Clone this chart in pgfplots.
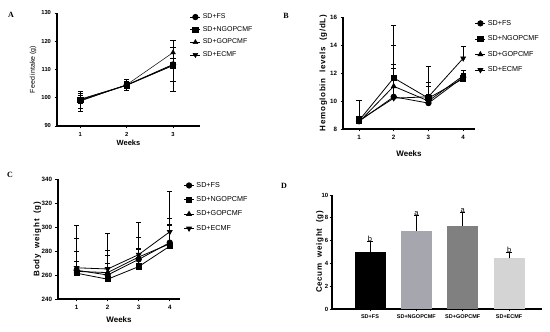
\documentclass[border=0pt]{standalone}
\usepackage{fontspec}
\setmainfont{Liberation Sans}
\newfontfamily\serifb{Liberation Serif}
\newfontfamily\spaced[LetterSpace=9]{Liberation Sans}
\usepackage{pgfplots}
\pgfplotsset{compat=1.18}

\pgfplotstableread{
x y ey
1 99.0 2.7
2 104.5 2.0
3 111.8 6.1
}\AFS
\pgfplotstableread{
x y ey
1 99.3 1.0
2 104.4 1.0
3 111.5 1.0
}\ANG
\pgfplotstableread{
x y ey
1 98.8 3.5
2 104.6 1.0
3 116.0 2.0
}\AGO
\pgfplotstableread{
x y ey
1 99.5 1.5
2 104.5 1.2
3 111.4 9.0
}\AEC

\pgfplotstableread{
x y ey
1 8.55 0.3
2 10.3 2.0
3 9.85 1.2
4 11.7 0.3
}\BFS
\pgfplotstableread{
x y ey
1 8.6 1.45
2 11.65 3.75
3 10.2 1.1
4 11.6 0.3
}\BNG
\pgfplotstableread{
x y ey
1 8.5 0.3
2 11.05 1.55
3 10.0 0.5
4 11.8 0.4
}\BGO
\pgfplotstableread{
x y ey
1 8.6 0.3
2 10.2 3.75
3 10.3 2.15
4 13.05 0.85
}\BEC

\pgfplotstableread{
x y ey
1 264 37
2 260 20.8
3 273 8.7
4 287 20
}\CFS
\pgfplotstableread{
x y ey
1 261.5 18.5
2 256.5 13.5
3 267 24.7
4 284 17
}\CNG
\pgfplotstableread{
x y ey
1 263 27.5
2 262 14.7
3 275 28.6
4 286 16
}\CGO
\pgfplotstableread{
x y ey
1 266 5
2 265 29.7
3 277 5
4 296 34
}\CEC

\definecolor{barNG}{HTML}{A6A6AE}
\definecolor{barGO}{HTML}{808080}
\definecolor{barEC}{HTML}{D4D4D4}

\pgfplotsset{
  gp/.style={
    scale only axis,
    axis lines=left,
    axis line style={line width=1.1pt,-},
    tick style={black, line width=0.8pt},
    tick align=outside,
    major tick length=2.5pt,
    /pgf/number format/assume math mode=true,
    clip=false,
    legend cell align=left,
    legend style={draw=none, fill=none, inner sep=0pt, outer sep=0pt},
    legend image code/.code={\draw[mark repeat=2,mark phase=2,##1] plot coordinates {(0pt,0pt)(5pt,0pt)(10pt,0pt)};},
    cycle list={
      {black, mark=*},
      {black, mark=square*},
      {black, mark=triangle*},
      {black, mark=triangle*, mark options={rotate=180}}},
    every axis plot/.append style={line width=0.8pt, mark size=2.7pt},
  },
  eb/.style={error bars/.cd, y dir=#1, y explicit,
    error bar style={black, line width=0.7pt},
    error mark options={rotate=90, black, mark size=2.6pt, line width=0.7pt}},
}

\begin{document}
\begin{tikzpicture}
\path[use as bounding box] (0,0) rectangle (550pt,332pt);

% Panel letters
\node[font=\serifb\bfseries\fontsize{8}{9}\selectfont] at (11pt,317pt) {A};
\node[font=\serifb\bfseries\fontsize{8}{9}\selectfont] at (286pt,316pt) {B};
\node[font=\serifb\bfseries\fontsize{8}{9}\selectfont] at (10pt,157pt) {C};
\node[font=\serifb\bfseries\fontsize{8}{9}\selectfont] at (284pt,146pt) {D};

% ---------------- A ----------------
\begin{axis}[gp,
  at={(57pt,206pt)}, anchor=south west,
  width=143pt, height=113pt,
  xmin=0.5, xmax=3.58, ymin=90, ymax=130,
  xtick={1,2,3}, ytick={90,100,...,130},
  tick label style={font=\bfseries\fontsize{5.8}{6.5}\selectfont},
  xlabel={Weeks}, ylabel={Feed intake (g)},
  xlabel style={font=\bfseries\fontsize{7.5}{8}\selectfont, at={(axis description cs:0.5,-0.15)}, anchor=center},
  ylabel style={font=\fontsize{7}{8}\selectfont, at={(axis description cs:-0.168,0.5)}, anchor=center},
  legend style={at={(0.93,1.01)}, anchor=north west, font=\fontsize{7}{8}\selectfont, row sep=2.2pt},
]
\addplot+[eb=both] table[x=x,y=y,y error=ey]{\AFS};
\addplot+[eb=both] table[x=x,y=y,y error=ey]{\ANG};
\addplot+[line width=0.5pt, eb=both] table[x=x,y=y,y error=ey]{\AGO};
\addplot+[line width=0.5pt, eb=both] table[x=x,y=y,y error=ey]{\AEC};
\legend{SD+FS, SD+NGOPCMF, SD+GOPCMF, SD+ECMF}
\end{axis}

% ---------------- B ----------------
\begin{axis}[gp,
  at={(343pt,203pt)}, anchor=south west,
  width=132pt, height=112pt,
  xmin=0.54, xmax=4.34, ymin=8, ymax=16,
  xtick={1,2,3,4}, ytick={8,10,...,16},
  tick label style={font=\bfseries\fontsize{6.2}{7}\selectfont},
  xlabel={Weeks}, ylabel={Hemoglobin\ \ levels\ \ (g/dL)},
  xlabel style={font=\bfseries\fontsize{8}{9}\selectfont, at={(axis description cs:0.5,-0.223)}, anchor=center},
  ylabel style={font=\spaced\bfseries\fontsize{8}{9}\selectfont, at={(axis description cs:-0.15,0.5)}, anchor=center},
  legend style={at={(1.0,0.99)}, anchor=north west, font=\fontsize{7.2}{8}\selectfont, row sep=5pt},
]
\addplot+[eb=plus] table[x=x,y=y,y error=ey]{\BFS};
\addplot+[eb=plus] table[x=x,y=y,y error=ey]{\BNG};
\addplot+[eb=plus] table[x=x,y=y,y error=ey]{\BGO};
\addplot+[eb=plus] table[x=x,y=y,y error=ey]{\BEC};
\legend{SD+FS, SD+NGOPCMF, SD+GOPCMF, SD+ECMF}
\end{axis}

% ---------------- C ----------------
\begin{axis}[gp,
  at={(58pt,33pt)}, anchor=south west,
  width=122pt, height=120pt,
  xmin=0.4, xmax=4.33, ymin=240, ymax=340,
  xtick={1,2,3,4}, ytick={240,260,...,340},
  tick label style={font=\bfseries\fontsize{6.2}{7}\selectfont},
  xlabel={Weeks}, ylabel={Body\ \ weight\ \ (g)},
  xlabel style={font=\bfseries\fontsize{8}{9}\selectfont, at={(axis description cs:0.5,-0.175)}, anchor=center},
  ylabel style={font=\spaced\bfseries\fontsize{8}{9}\selectfont, at={(axis description cs:-0.17,0.5)}, anchor=center},
  legend style={at={(1.03,0.99)}, anchor=north west, font=\fontsize{7.2}{8}\selectfont, row sep=3.8pt},
]
\addplot+[eb=plus] table[x=x,y=y,y error=ey]{\CFS};
\addplot+[eb=plus] table[x=x,y=y,y error=ey]{\CNG};
\addplot+[eb=plus] table[x=x,y=y,y error=ey]{\CGO};
\addplot+[eb=plus] table[x=x,y=y,y error=ey]{\CEC};
\legend{SD+FS, SD+NGOPCMF, SD+GOPCMF, SD+ECMF}
\end{axis}

% ---------------- D ----------------
\begin{axis}[gp,
  at={(332pt,23pt)}, anchor=south west,
  width=210pt, height=114pt,
  xmin=-0.82, xmax=3.71, ymin=0, ymax=10,
  ybar, bar width=31pt, bar shift=0pt,
  xtick={0,1,2,3}, xticklabels={SD+FS, SD+NGOPCMF, SD+GOPCMF, SD+ECMF},
  ytick={0,2,...,10},
  xticklabel style={font=\bfseries\fontsize{5.5}{6}\selectfont},
  yticklabel style={font=\bfseries\fontsize{6}{7}\selectfont, inner sep=1pt},
  ylabel={Cecum\ \ weight\ \ (g)},
  ylabel style={font=\spaced\bfseries\fontsize{8}{9}\selectfont, at={(axis description cs:-0.058,0.5)}, anchor=center},
]
\addplot[draw=none, fill=black, eb=plus] coordinates {(0,5.0) +- (0,0.95)};
\addplot[draw=none, fill=barNG, eb=plus] coordinates {(1,6.85) +- (0,1.35)};
\addplot[draw=none, fill=barGO, eb=plus] coordinates {(2,7.3) +- (0,1.2)};
\addplot[draw=none, fill=barEC, eb=plus] coordinates {(3,4.45) +- (0,0.55)};
\node[anchor=south, inner sep=0.5pt, font=\fontsize{7.5}{8}\selectfont] at (axis cs:0,5.85) {b};
\node[anchor=south, inner sep=0.5pt, font=\fontsize{7.5}{8}\selectfont] at (axis cs:1,8.1) {a};
\node[anchor=south, inner sep=0.5pt, font=\fontsize{7.5}{8}\selectfont] at (axis cs:2,8.4) {a};
\node[anchor=south, inner sep=0.5pt, font=\fontsize{7.5}{8}\selectfont] at (axis cs:3,4.9) {b};
\end{axis}
\end{tikzpicture}
\end{document}
